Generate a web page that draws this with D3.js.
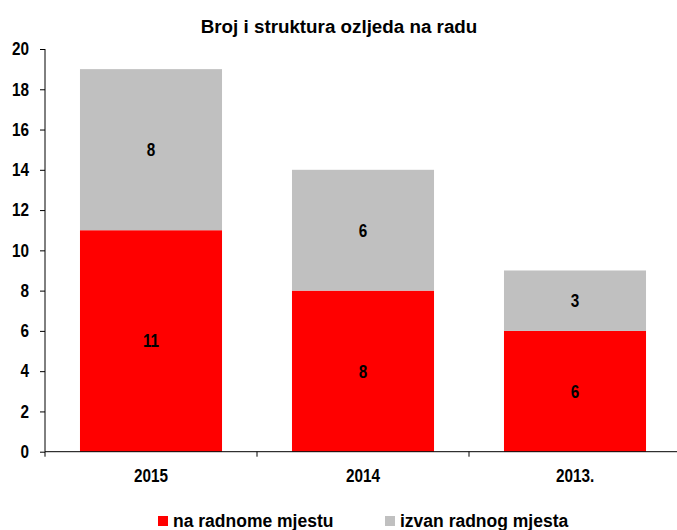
<!DOCTYPE html>
<html>
<head>
<meta charset="utf-8">
<script src="https://cdn.jsdelivr.net/npm/d3@7"></script>
<style>
  html, body { margin: 0; padding: 0; background: #fff; }
  svg text { font-family: "Liberation Sans", Arial, sans-serif; font-weight: bold; fill: #000; }
</style>
</head>
<body>
<svg id="chart" width="677" height="530"></svg>
<script>
const categories = ["2015", "2014", "2013."];
const naRadnomeMjestu = [11, 8, 6];
const izvanRadnogMjesta = [8, 6, 3];
const seriesNames = ["na radnome mjestu", "izvan radnog mjesta"];
const seriesColors = ["#ff0000", "#c0c0c0"];
const yTicks = [0, 2, 4, 6, 8, 10, 12, 14, 16, 18, 20];
const title = "Broj i struktura ozljeda na radu";

const svg = d3.select("#chart");
const SX = 0.85; // horizontal condensing of the number labels

const x = d3.scaleBand().domain(categories).range([45, 681]).paddingInner(0.33).paddingOuter(0.165);
const y = d3.scaleLinear().domain([0, 20]).range([451.7, 49]);

const rows = categories.map((c, i) => ({ cat: c, a: naRadnomeMjestu[i], b: izvanRadnogMjesta[i] }));
const stack = d3.stack().keys(["a", "b"])(rows);

// Title
svg.append("text").attr("x", 339).attr("y", 33.3).attr("text-anchor", "middle")
  .style("font-size", "18.8px").text(title);

// Bars
const g = svg.append("g");
stack.forEach((layer, li) => {
  g.selectAll(null).data(layer).enter().append("rect")
    .attr("x", d => x(d.data.cat))
    .attr("y", d => y(d[1]))
    .attr("width", x.bandwidth())
    .attr("height", d => y(d[0]) - y(d[1]))
    .attr("fill", seriesColors[li]);
  g.selectAll(null).data(layer).enter().append("text")
    .attr("transform", d => `translate(${x(d.data.cat) + x.bandwidth() / 2},${(y(d[0]) + y(d[1])) / 2}) scale(${SX},1)`)
    .attr("dy", "0.36em")
    .attr("text-anchor", "middle")
    .style("font-size", "18px")
    .text(d => d[1] - d[0]);
});

// Y axis
const yAxis = d3.axisLeft(y).tickValues(yTicks).tickSize(5).tickPadding(11);
const yg = svg.append("g").attr("transform", "translate(45,0)").call(yAxis);
yg.select(".domain").attr("d", `M0,${y(20)}V${y(0)}`).attr("stroke", "#000");
yg.selectAll(".tick line").attr("stroke", "#000");
yg.selectAll(".tick text")
  .attr("font-family", null).attr("font-size", null)
  .style("font-size", "18px")
  .attr("x", -16 / SX)
  .attr("transform", `scale(${SX},1)`);

// X axis
const xg = svg.append("g").attr("transform", `translate(0,${y(0)})`);
xg.append("line").attr("x1", 45).attr("x2", 681).attr("y1", 0).attr("y2", 0).attr("stroke", "#000");
xg.selectAll(null).data(categories).enter().append("line")
  .attr("x1", d => x(d) - x.step() * x.paddingInner() / 2)
  .attr("x2", d => x(d) - x.step() * x.paddingInner() / 2)
  .attr("y1", 0).attr("y2", 5).attr("stroke", "#000");
xg.selectAll(null).data(categories).enter().append("text")
  .attr("transform", d => `translate(${x(d) + x.bandwidth() / 2},30) scale(${SX},1)`)
  .attr("text-anchor", "middle")
  .style("font-size", "18px")
  .text(d => d);

// Legend
const legend = svg.append("g");
const legX = [158, 385];
seriesNames.forEach((n, i) => {
  legend.append("rect").attr("x", legX[i]).attr("y", 516).attr("width", 10).attr("height", 10).attr("fill", seriesColors[i]);
  legend.append("text").attr("x", legX[i] + 15).attr("y", 527).style("font-size", "17.5px").text(n);
});
</script>
</body>
</html>
